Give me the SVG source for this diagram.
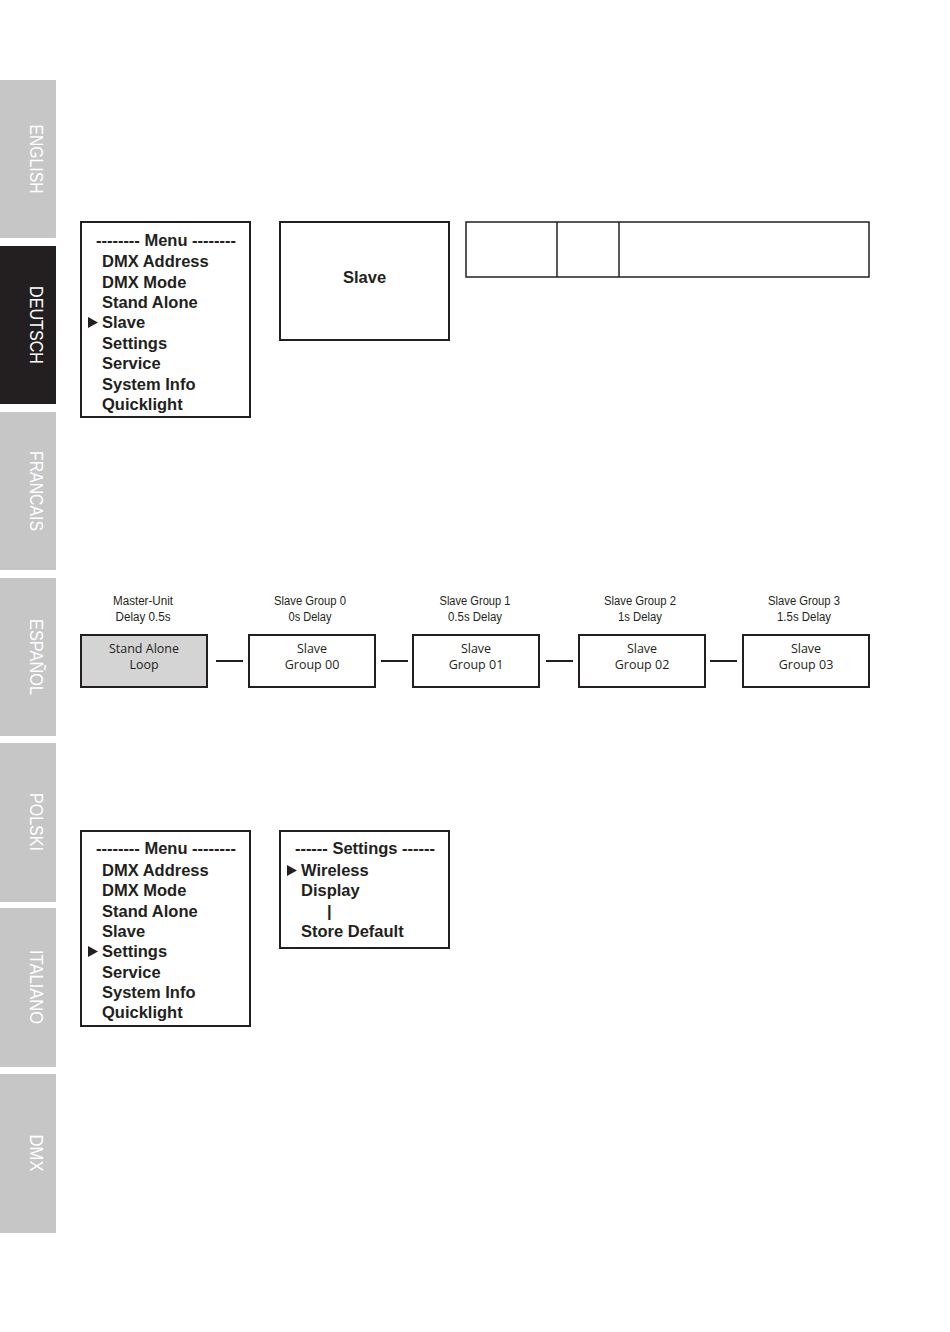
<svg xmlns="http://www.w3.org/2000/svg" width="950" height="1332" viewBox="0 0 950 1332">
<style>
.tab{fill:#c6c6c6}
.tabon{fill:#231f20}
.tt{font-family:"Liberation Sans",Arial,sans-serif;font-size:18px;fill:#ffffff;text-anchor:middle}
.box{fill:#ffffff;stroke:#231f20;stroke-width:2}
.thin{fill:none;stroke:#231f20;stroke-width:1.5}
.m{font-family:"Liberation Sans",Arial,sans-serif;font-weight:bold;font-size:16.5px;fill:#231f20}
.mc{text-anchor:middle}
.lbl{font-family:"Liberation Sans",Arial,sans-serif;font-size:12.5px;fill:#231f20;text-anchor:middle}
.bt{font-family:"Open Sans","Noto Sans",sans-serif;font-size:12.5px;fill:#231f20;text-anchor:middle}
.gbox{fill:#ffffff;stroke:#231f20;stroke-width:2}
.gbox0{fill:#d4d4d4;stroke:#231f20;stroke-width:2}
.conn{stroke:#231f20;stroke-width:2;fill:none}
.arr{fill:#231f20}
</style>
<rect width="950" height="1332" fill="#ffffff"/>
<g id="tabs">
<rect class="tab" x="0" y="80" width="56" height="158"/>
<text class="tt" transform="translate(36,159) rotate(90)" y="0" dy="0" textLength="69" lengthAdjust="spacingAndGlyphs" dominant-baseline="central">ENGLISH</text>
<rect class="tabon" x="0" y="246" width="56" height="158"/>
<text class="tt" transform="translate(36,325) rotate(90)" textLength="78" lengthAdjust="spacingAndGlyphs" dominant-baseline="central">DEUTSCH</text>
<rect class="tab" x="0" y="412" width="56" height="158"/>
<text class="tt" transform="translate(36,491) rotate(90)" textLength="80" lengthAdjust="spacingAndGlyphs" dominant-baseline="central">FRANCAIS</text>
<rect class="tab" x="0" y="578" width="56" height="158"/>
<text class="tt" transform="translate(36,657) rotate(90)" textLength="76" lengthAdjust="spacingAndGlyphs" dominant-baseline="central">ESPAÑOL</text>
<rect class="tab" x="0" y="743" width="56" height="159"/>
<text class="tt" transform="translate(36,822) rotate(90)" textLength="58" lengthAdjust="spacingAndGlyphs" dominant-baseline="central">POLSKI</text>
<rect class="tab" x="0" y="908" width="56" height="159"/>
<text class="tt" transform="translate(36,987) rotate(90)" textLength="74" lengthAdjust="spacingAndGlyphs" dominant-baseline="central">ITALIANO</text>
<rect class="tab" x="0" y="1074" width="56" height="159"/>
<text class="tt" transform="translate(36,1153) rotate(90)" textLength="37" lengthAdjust="spacingAndGlyphs" dominant-baseline="central">DMX</text>
</g>
<g id="menu1">
<rect class="box" x="81" y="222" width="169" height="195"/>
<text class="m mc" x="166" y="246">-------- Menu --------</text>
<text class="m" x="102" y="267">DMX Address</text>
<text class="m" x="102" y="288">DMX Mode</text>
<text class="m" x="102" y="308">Stand Alone</text>
<text class="m" x="102" y="328">Slave</text>
<text class="m" x="102" y="349">Settings</text>
<text class="m" x="102" y="369">Service</text>
<text class="m" x="102" y="390">System Info</text>
<text class="m" x="102" y="410">Quicklight</text>
<polygon class="arr" points="88,317 98,322.5 88,328"/>
</g>
<g id="slavebox">
<rect class="box" x="280" y="222" width="169" height="118"/>
<text class="m mc" x="364.5" y="283">Slave</text>
</g>
<g id="table">
<rect class="thin" x="466" y="222" width="403" height="55"/>
<line class="thin" x1="557" y1="222" x2="557" y2="277"/>
<line class="thin" x1="619" y1="222" x2="619" y2="277"/>
</g>
<g id="g-master">
<text class="lbl" x="143" y="605" textLength="60" lengthAdjust="spacingAndGlyphs">Master-Unit</text>
<text class="lbl" x="143" y="621" textLength="55" lengthAdjust="spacingAndGlyphs">Delay 0.5s</text>
<rect class="gbox0" x="81" y="635" width="126" height="52"/>
<text class="bt" x="144" y="653">Stand Alone</text>
<text class="bt" x="144" y="669">Loop</text>
</g>
<g id="g-0">
<text class="lbl" x="310" y="605" textLength="72" lengthAdjust="spacingAndGlyphs">Slave Group 0</text>
<text class="lbl" x="310" y="621" textLength="43" lengthAdjust="spacingAndGlyphs">0s Delay</text>
<rect class="gbox" x="249" y="635" width="126" height="52"/>
<text class="bt" x="312" y="653">Slave</text>
<text class="bt" x="312" y="669">Group 00</text>
</g>
<g id="g-1">
<text class="lbl" x="475" y="605" textLength="71" lengthAdjust="spacingAndGlyphs">Slave Group 1</text>
<text class="lbl" x="475" y="621" textLength="54" lengthAdjust="spacingAndGlyphs">0.5s Delay</text>
<rect class="gbox" x="413" y="635" width="126" height="52"/>
<text class="bt" x="476" y="653">Slave</text>
<text class="bt" x="476" y="669">Group 01</text>
</g>
<g id="g-2">
<text class="lbl" x="640" y="605" textLength="72" lengthAdjust="spacingAndGlyphs">Slave Group 2</text>
<text class="lbl" x="640" y="621" textLength="44" lengthAdjust="spacingAndGlyphs">1s Delay</text>
<rect class="gbox" x="579" y="635" width="126" height="52"/>
<text class="bt" x="642" y="653">Slave</text>
<text class="bt" x="642" y="669">Group 02</text>
</g>
<g id="g-3">
<text class="lbl" x="804" y="605" textLength="72" lengthAdjust="spacingAndGlyphs">Slave Group 3</text>
<text class="lbl" x="804" y="621" textLength="54" lengthAdjust="spacingAndGlyphs">1.5s Delay</text>
<rect class="gbox" x="743" y="635" width="126" height="52"/>
<text class="bt" x="806" y="653">Slave</text>
<text class="bt" x="806" y="669">Group 03</text>
</g>
<g id="connectors">
<line class="conn" x1="216" y1="661" x2="243" y2="661"/>
<line class="conn" x1="381" y1="661" x2="408" y2="661"/>
<line class="conn" x1="546" y1="661" x2="573" y2="661"/>
<line class="conn" x1="710" y1="661" x2="737" y2="661"/>
</g>
<g id="menu2">
<rect class="box" x="81" y="831" width="169" height="195"/>
<text class="m mc" x="166" y="854">-------- Menu --------</text>
<text class="m" x="102" y="876">DMX Address</text>
<text class="m" x="102" y="896">DMX Mode</text>
<text class="m" x="102" y="917">Stand Alone</text>
<text class="m" x="102" y="937">Slave</text>
<text class="m" x="102" y="957">Settings</text>
<text class="m" x="102" y="978">Service</text>
<text class="m" x="102" y="998">System Info</text>
<text class="m" x="102" y="1018">Quicklight</text>
<polygon class="arr" points="88,946 98,951.5 88,957"/>
</g>
<g id="settings">
<rect class="box" x="280" y="831" width="169" height="117"/>
<text class="m mc" x="365" y="854">------ Settings ------</text>
<text class="m" x="301" y="876">Wireless</text>
<text class="m" x="301" y="896">Display</text>
<text class="m" x="327" y="917">|</text>
<text class="m" x="301" y="937">Store Default</text>
<polygon class="arr" points="287,865 297,870.5 287,876"/>
</g>
</svg>
